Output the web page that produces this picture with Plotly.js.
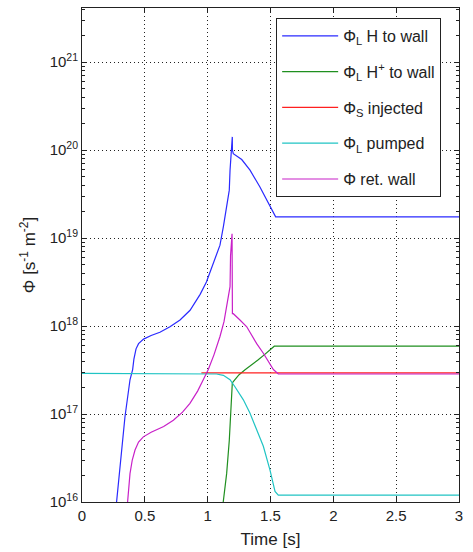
<!DOCTYPE html>
<html>
<head>
<meta charset="utf-8">
<script src="https://cdn.plot.ly/plotly-3.0.1.min.js"></script>
<style>html,body{margin:0;padding:0;background:#fff;}#chart{width:473px;height:552px;}</style>
</head>
<body>
<div id="chart"></div>
<script>
// Φ_L H to wall
var tH = [0.272, 0.308, 0.342, 0.382, 0.403, 0.413, 0.43, 0.45, 0.49, 0.55, 0.62, 0.70, 0.78, 0.86, 0.94, 0.99, 1.032, 1.098, 1.125, 1.151, 1.172, 1.178, 1.191, 1.196, 1.197, 1.204, 1.271, 1.337, 1.416, 1.483, 1.541, 3.0];
var phiH = [9e15, 3.2e16, 9.3e16, 2.45e17, 3.2e17, 4.2e17, 5.5e17, 6.3e17, 7.1e17, 7.8e17, 8.5e17, 9.8e17, 1.17e18, 1.51e18, 2.29e18, 3.16e18, 4.6e18, 8.3e18, 1.35e19, 2.45e19, 3.5e19, 5.9e19, 1.0e20, 1.41e20, 1.0e20, 9.1e19, 7.8e19, 5.9e19, 3.8e19, 2.45e19, 1.74e19, 1.74e19];
// Φ_L H+ to wall
var tHp = [1.12, 1.151, 1.172, 1.186, 1.196, 1.204, 1.25, 1.30, 1.35, 1.40, 1.45, 1.53, 3.0];
var phiHp = [9e15, 2.1e16, 5.0e16, 1.2e17, 2.24e17, 2.34e17, 2.8e17, 3.2e17, 3.6e17, 4.1e17, 4.7e17, 5.9e17, 5.9e17];
// Φ_S injected
var tInj = [0.95, 3.0];
var phiInj = [2.93e17, 2.93e17];
// Φ_L pumped
var tPump = [0, 0.95, 1.07, 1.125, 1.178, 1.217, 1.284, 1.337, 1.390, 1.443, 1.496, 1.536, 1.562, 3.0];
var phiPump = [2.9e17, 2.9e17, 2.85e17, 2.75e17, 2.45e17, 2.04e17, 1.45e17, 1.02e17, 6.6e16, 4.3e16, 2.3e16, 1.32e16, 1.2e16, 1.2e16];
// Φ ret. wall
var tRet = [0.36, 0.382, 0.40, 0.422, 0.45, 0.488, 0.55, 0.65, 0.727, 0.80, 0.859, 0.92, 0.965, 1.005, 1.05, 1.098, 1.13, 1.151, 1.178, 1.182, 1.194, 1.197, 1.204, 1.257, 1.311, 1.390, 1.443, 1.523, 1.562, 3.0];
var phiRet = [9e15, 2.1e16, 3.0e16, 3.9e16, 4.8e16, 5.5e16, 6.2e16, 7.2e16, 8.5e16, 1.05e17, 1.32e17, 1.82e17, 2.45e17, 3.2e17, 4.7e17, 7.6e17, 1.12e18, 1.66e18, 2.8e18, 6.3e18, 1.12e19, 1.38e18, 1.38e18, 1.17e18, 9.8e17, 6.3e17, 4.9e17, 3.2e17, 2.85e17, 2.85e17];

var names = ['Φ<sub>L</sub> H to wall', 'Φ<sub>L</sub> H<sup>+</sup> to wall', 'Φ<sub>S</sub> injected', 'Φ<sub>L</sub> pumped', 'Φ ret. wall'];
var colors = ['#2a2aff', '#1f8f1f', '#ff2020', '#20c4c4', '#c820c8'];
var xs = [tH, tHp, tInj, tPump, tRet];
var ys = [phiH, phiHp, phiInj, phiPump, phiRet];

var yTickVals = [1e16, 1e17, 1e18, 1e19, 1e20, 1e21];
var yTickText = ['10<sup>16</sup>', '10<sup>17</sup>', '10<sup>18</sup>', '10<sup>19</sup>', '10<sup>20</sup>', '10<sup>21</sup>'];
var xTickVals = [0, 0.5, 1, 1.5, 2, 2.5, 3];
var xTickText = ['0', '0.5', '1', '1.5', '2', '2.5', '3'];

var traces = [];
for (var i = 0; i < names.length; i++) {
  traces.push({
    x: xs[i], y: ys[i], type: 'scatter', mode: 'lines', name: names[i],
    legendgroup: 'g' + i,
    line: {color: colors[i], width: 1.2}
  });
}

var FONT = 'Liberation Sans, Arial, Helvetica, sans-serif';
var layout = {
  width: 473, height: 552,
  margin: {l: 82, r: 14, t: 8, b: 50},
  paper_bgcolor: '#fff', plot_bgcolor: '#fff',
  font: {family: FONT, size: 15, color: '#222'},
  showlegend: true,
  legend: {
    x: 0.515, y: 0.98, xanchor: 'left', yanchor: 'top',
    bgcolor: '#fff', bordercolor: '#222', borderwidth: 1,
    font: {family: FONT, size: 16, color: '#222'},
    traceorder: 'grouped', tracegroupgap: 12, itemwidth: 56
  },
  xaxis: {
    range: [0, 3], tickvals: xTickVals, ticktext: xTickText,
    showline: true, linecolor: '#222', linewidth: 1, mirror: 'ticks',
    ticks: 'inside', ticklen: 5, tickcolor: '#222',
    showgrid: true, gridcolor: '#222', griddash: '1px,3px', gridwidth: 1,
    zeroline: false,
    title: {text: 'Time [s]', font: {family: FONT, size: 17, color: '#222'}, standoff: 10}
  },
  yaxis: {
    type: 'log', range: [16, 21.614], tickvals: yTickVals, ticktext: yTickText,
    showline: true, linecolor: '#222', linewidth: 1, mirror: 'ticks',
    ticks: 'inside', ticklen: 5, tickcolor: '#222',
    showgrid: true, gridcolor: '#222', griddash: '1px,3px', gridwidth: 1,
    zeroline: false,
    minor: {dtick: 'D1', ticks: 'inside', ticklen: 3, tickcolor: '#222', showgrid: false},
    title: {text: 'Φ [s<sup>-1</sup> m<sup>-2</sup>]', font: {family: FONT, size: 17, color: '#222'}, standoff: 9}
  }
};

Plotly.newPlot('chart', traces, layout, {displayModeBar: false, staticPlot: true});
</script>
</body>
</html>
